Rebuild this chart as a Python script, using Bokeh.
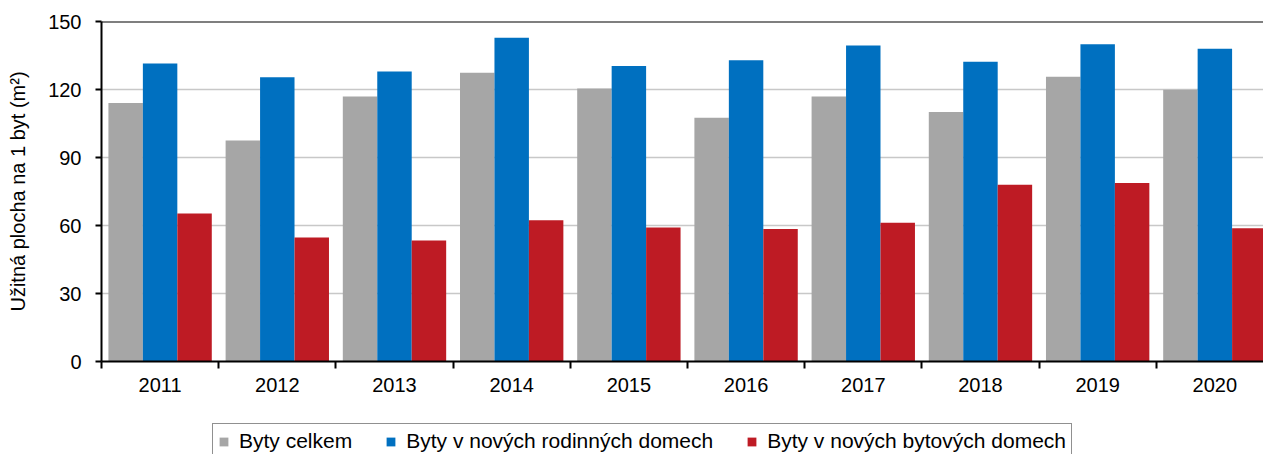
from bokeh.plotting import figure
from bokeh.layouts import column
from bokeh.models import (Range1d, FixedTicker, Span, Legend, LegendItem,
                          ColumnDataSource)
from bokeh.embed import file_html
from bokeh.resources import INLINE

years = ["2011", "2012", "2013", "2014", "2015", "2016", "2017", "2018", "2019", "2020"]
celkem = [114.0, 97.5, 116.9, 127.4, 120.4, 107.5, 116.9, 110.1, 125.6, 119.9]
rodinne = [131.5, 125.4, 127.9, 142.8, 130.4, 132.9, 139.4, 132.2, 140.0, 138.0]
bytove = [65.3, 54.7, 53.4, 62.3, 59.1, 58.5, 61.2, 78.0, 78.8, 58.8]
series_names = ["Byty celkem", "Byty v nových rodinných domech", "Byty v nových bytových domech"]
colors = ["#A6A6A6", "#0070C0", "#BE1B24"]
y_ticks = [0, 30, 60, 90, 120, 150]

FONT = "Liberation Sans"
W = 1263
centers = [i + 0.5 for i in range(len(years))]
bw = 0.294

p = figure(width=W, height=405, output_backend="svg", toolbar_location=None,
           x_range=Range1d(0, 9.915), y_range=Range1d(0, 150),
           min_border_left=101, min_border_right=0, min_border_top=21,
           min_border_bottom=44)
p.outline_line_color = None

for vals, off, col in zip([celkem, rodinne, bytove], [-bw, 0, bw], colors):
    src = ColumnDataSource(dict(x=[c + off for c in centers], top=vals))
    p.vbar(x="x", top="top", width=bw, bottom=0, source=src,
           fill_color=col, line_color=None)

p.add_layout(Span(location=150, dimension="width", line_color="black", line_width=2))

# grid
p.xgrid.visible = False
p.ygrid.ticker = FixedTicker(ticks=y_ticks)
p.ygrid.grid_line_color = "#C8C8C8"
p.ygrid.grid_line_width = 1.5

# x axis
xa = p.xaxis[0]
xa.ticker = FixedTicker(ticks=centers, minor_ticks=list(range(len(years) + 1)))
xa.major_label_overrides = {c: y for c, y in zip(centers, years)}
xa.major_tick_out = 0
xa.major_tick_in = 0
xa.minor_tick_out = 7
xa.minor_tick_in = 0
xa.minor_tick_line_color = "black"
xa.minor_tick_line_width = 2
xa.axis_line_color = "black"
xa.axis_line_width = 2
xa.major_label_text_font = FONT
xa.major_label_text_font_size = "20px"
xa.major_label_text_color = "black"
xa.major_label_standoff = 9

# y axis
ya = p.yaxis[0]
ya.ticker = FixedTicker(ticks=y_ticks)
ya.major_tick_out = 6
ya.major_tick_in = 0
ya.minor_tick_out = 0
ya.minor_tick_in = 0
ya.major_tick_line_width = 2
ya.axis_line_width = 2
ya.axis_line_color = "black"
ya.major_label_text_font = FONT
ya.major_label_text_font_size = "20px"
ya.major_label_text_color = "black"
ya.major_label_standoff = 14
ya.axis_label = "Užitná plocha na 1 byt (m²)"
ya.axis_label_text_font = FONT
ya.axis_label_text_font_size = "20px"
ya.axis_label_text_font_style = "normal"
ya.axis_label_text_color = "black"
ya.axis_label_standoff = 16

# legend strip below the chart (its frame is aligned with the chart frame)
q = figure(width=W, height=49, output_backend="svg", toolbar_location=None,
           x_range=Range1d(0, 1), y_range=Range1d(0, 1),
           min_border=0, outline_line_color=None)
q.axis.visible = False
q.grid.visible = False
leg_renderers = []
for col in colors:
    # proxy glyphs placed outside the visible range; only their legend swatches show
    leg_renderers.append(q.vbar(x=[5], top=[5], bottom=[4], width=0.1,
                                fill_color=col, line_color=None))

legend = Legend(items=[LegendItem(label=n, renderers=[r]) for n, r in zip(series_names, leg_renderers)],
                orientation="horizontal", location=(111, -5),
                glyph_width=11, glyph_height=11, label_standoff=10, spacing=33,
                padding=5, margin=0,
                label_text_font=FONT, label_text_font_size="21px", label_text_color="black",
                border_line_color="#222222", border_line_width=1.5,
                background_fill_alpha=1)
q.add_layout(legend, "center")

layout = column(p, q, spacing=0)
open("out.html", "w").write(file_html(layout, INLINE))
